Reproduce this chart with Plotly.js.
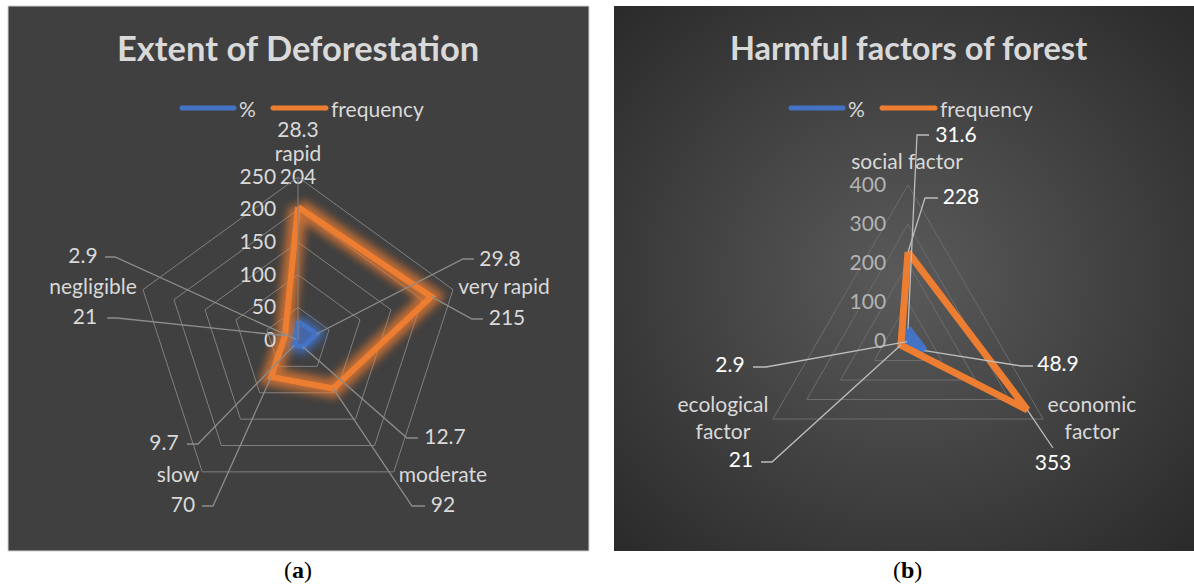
<!DOCTYPE html>
<html>
<head>
<meta charset="utf-8">
<script src="https://cdn.plot.ly/plotly-3.0.1.min.js"></script>
<style>
  html, body { margin: 0; padding: 0; background: #ffffff; }
  #wrap { position: relative; width: 1194px; height: 585px; overflow: hidden; }
  #panelB { position: absolute; left: 614px; top: 6px; width: 580px; height: 545px;
    background: radial-gradient(ellipse farthest-corner at 50% 50%, #5a5a5a 0%, #474747 40%, #2a2a2a 100%); }
  #chart { position: absolute; left: 0; top: 0; width: 1194px; height: 585px; }
</style>
</head>
<body>
<div id="wrap"><div id="panelB"></div><div id="chart"></div></div>
<script>
// ---- Extent of deforestation ----
const extentCategories = ['rapid', 'very rapid', 'moderate', 'slow', 'negligible'];
const extentPercent = [28.3, 29.8, 12.7, 9.7, 2.9];
const extentFrequency = [204, 215, 92, 70, 21];
const extentTicks = [0, 50, 100, 150, 200, 250];

// ---- Harmful factors of forest ----
const harmCategories = ['social factor', 'economic factor', 'ecological factor'];
const harmCategoryText = ['social factor', 'economic<br>factor', 'ecological<br>factor'];
const harmPercent = [31.6, 48.9, 2.9];
const harmFrequency = [228, 353, 21];
const harmTicks = [0, 100, 200, 300, 400];

const seriesNames = ['%', 'frequency'];

// ---- page geometry (pixels) ----
const W = 1194, H = 585;
const FONT = 'Lato, "Open Sans", sans-serif';
const ORANGE = '#ED7D31', BLUE = '#4472C4';
const TEXT_SIZE = 21;

const panelA = { left: 8, top: 6, right: 589, bottom: 551, cx: 298, cy: 340, R: 163, rmax: 250,
                 xa: 'x', ya: 'y', polar: 'polar' };
const panelB = { left: 614, top: 6, right: 1194, bottom: 551, cx: 908, cy: 341, R: 156, rmax: 400,
                 xa: 'x2', ya: 'y2', polar: 'polar2' };

// where each data label sits, and the elbow of its leader line (pixels)
const extentLabelPlacement = [
  { pct: { at: [298, 132] }, freq: { at: [298, 179] } },
  { pct: { at: [500, 261], lead: [[474, 259], [463, 259]] }, freq: { at: [507, 320], lead: [[483, 319], [472, 319]] } },
  { pct: { at: [445, 439], lead: [[418, 438], [407, 438]] }, freq: { at: [443, 507], lead: [[425, 506], [412, 506]] } },
  { pct: { at: [164, 445], lead: [[187, 444], [198, 444]] }, freq: { at: [183, 507], lead: [[202, 506], [213, 506]] } },
  { pct: { at: [83, 258], lead: [[105, 257], [115, 257]] }, freq: { at: [85, 319], lead: [[107, 318], [117, 318]] } }
];
const extentCategoryPlacement = [[298, 156], [504, 289], [443, 477], [178, 477], [93, 289]];
const harmLabelPlacement = [
  { pct: { at: [956, 137], lead: [[929, 135], [917, 135]] }, freq: { at: [961, 199], lead: [[938, 198], [925, 198]] } },
  { pct: { at: [1058, 366], lead: [[1033, 366], [1021, 366]] }, freq: { at: [1053, 465], lead: [[1053, 448]] } },
  { pct: { at: [730, 367], lead: [[753, 367], [766, 367]] }, freq: { at: [741, 462], lead: [[761, 462], [772, 462]] } }
];
const harmCategoryPlacement = [[907, 164], [1092, 420], [723, 420]];

// ---- helpers ----
function closeRing(a) { return a.concat([a[0]]); }
function scaleOf(p) { return p.R / p.rmax; }
function pxToData(p, q) { const k = scaleOf(p); return [(q[0] - p.cx) / k, (p.cy - q[1]) / k]; }
function valueToXY(v, i, n) { const t = 2 * Math.PI * i / n; return [v * Math.sin(t), v * Math.cos(t)]; }
function polarDomain(p) {
  return { x: [(p.cx - p.R) / W, (p.cx + p.R) / W], y: [(H - p.cy - p.R) / H, (H - p.cy + p.R) / H] };
}
function overlayAxes(p) {
  const k = scaleOf(p);
  return {
    x: { domain: [p.left / W, p.right / W], range: [(p.left - p.cx) / k, (p.right - p.cx) / k],
         visible: false, fixedrange: true, anchor: p.ya },
    y: { domain: [(H - p.bottom) / H, (H - p.top) / H], range: [(p.cy - p.bottom) / k, (p.cy - p.top) / k],
         visible: false, fixedrange: true, anchor: p.xa }
  };
}
function leaderShapes(p, placement, pct, freq, color) {
  const out = [];
  const n = pct.length;
  placement.forEach((pl, i) => {
    [['pct', pct[i]], ['freq', freq[i]]].forEach(([key, v]) => {
      const lead = pl[key].lead;
      if (!lead) return;
      const pts = lead.map(q => pxToData(p, q));
      pts.push(valueToXY(v, i, n));
      out.push({ type: 'path', xref: p.xa, yref: p.ya, layer: 'above',
        path: 'M' + pts.map(q => q[0].toFixed(2) + ',' + q[1].toFixed(2)).join('L'),
        line: { color: color, width: 1.3 } });
    });
  });
  return out;
}
function labelTrace(p, placement, pct, freq, color) {
  const xs = [], ys = [], txt = [];
  placement.forEach((pl, i) => {
    const a = pxToData(p, pl.pct.at), b = pxToData(p, pl.freq.at);
    xs.push(a[0], b[0]); ys.push(a[1], b[1]);
    txt.push(pct[i].toFixed(1), String(freq[i]));
  });
  return { type: 'scatter', mode: 'text', x: xs, y: ys, text: txt, xaxis: p.xa, yaxis: p.ya,
    textposition: 'middle center', cliponaxis: false, showlegend: false, hoverinfo: 'skip',
    textfont: { family: FONT, size: TEXT_SIZE, color: color } };
}
function categoryTrace(p, text, placement, color) {
  return { type: 'scatter', mode: 'text', xaxis: p.xa, yaxis: p.ya, text: text,
    x: placement.map(q => pxToData(p, q)[0]), y: placement.map(q => pxToData(p, q)[1]),
    textposition: 'middle center', cliponaxis: false, showlegend: false, hoverinfo: 'skip',
    textfont: { family: FONT, size: TEXT_SIZE, color: color } };
}

// ---- traces ----
const traces = [
  // soft halo under the first chart's lines
  { type: 'scatterpolar', subplot: 'polar', uid: 'glowpct', r: closeRing(extentPercent), theta: closeRing(extentCategories),
    mode: 'lines', line: { color: BLUE, width: 14 }, fill: 'toself', fillcolor: 'rgba(68,114,196,0.55)',
    opacity: 0.8, showlegend: false, hoverinfo: 'skip' },
  { type: 'scatterpolar', subplot: 'polar', uid: 'glowfreq', r: closeRing(extentFrequency), theta: closeRing(extentCategories),
    mode: 'lines', line: { color: ORANGE, width: 18 }, opacity: 0.75, showlegend: false, hoverinfo: 'skip' },
  { type: 'scatterpolar', subplot: 'polar', name: seriesNames[0], r: closeRing(extentPercent), theta: closeRing(extentCategories),
    mode: 'lines', line: { color: BLUE, width: 5 }, showlegend: false },
  { type: 'scatterpolar', subplot: 'polar', name: seriesNames[1], r: closeRing(extentFrequency), theta: closeRing(extentCategories),
    mode: 'lines', line: { color: ORANGE, width: 6 }, showlegend: false },

  { type: 'scatterpolar', subplot: 'polar2', name: seriesNames[0], r: closeRing(harmPercent), theta: closeRing(harmCategories),
    mode: 'lines', line: { color: BLUE, width: 7 }, fill: 'toself', fillcolor: BLUE, showlegend: false },
  { type: 'scatterpolar', subplot: 'polar2', name: seriesNames[1], r: closeRing(harmFrequency), theta: closeRing(harmCategories),
    mode: 'lines', line: { color: ORANGE, width: 7 }, showlegend: false },

  labelTrace(panelA, extentLabelPlacement, extentPercent, extentFrequency, '#d9d9d9'),
  categoryTrace(panelA, extentCategories, extentCategoryPlacement, '#d9d9d9'),
  labelTrace(panelB, harmLabelPlacement, harmPercent, harmFrequency, '#ffffff'),
  categoryTrace(panelB, harmCategoryText, harmCategoryPlacement, '#d9d9d9')
];

// ---- layout ----
const axA = overlayAxes(panelA), axB = overlayAxes(panelB);
const tickFont = c => ({ family: FONT, size: TEXT_SIZE, color: c });

function legendItems(x0, y) {
  const items = [
    { x0: x0, x1: x0 + 52, color: BLUE, text: seriesNames[0], tx: x0 + 55 },
    { x0: x0 + 91, x1: x0 + 144, color: ORANGE, text: seriesNames[1], tx: x0 + 147 }
  ];
  const shapes = [];
  items.forEach(it => {
    shapes.push({ type: 'line', xref: 'paper', yref: 'paper', layer: 'above',
      x0: it.x0 / W, x1: it.x1 / W, y0: 1 - y / H, y1: 1 - y / H, line: { color: it.color, width: 5 } });
    // rounded ends of the legend strokes
    [it.x0, it.x1].forEach(xc => shapes.push({ type: 'circle', xref: 'paper', yref: 'paper', layer: 'above',
      x0: (xc - 2.5) / W, x1: (xc + 2.5) / W, y0: 1 - (y + 2.5) / H, y1: 1 - (y - 2.5) / H,
      fillcolor: it.color, line: { width: 0 } }));
  });
  const notes = items.map(it => ({ xref: 'paper', yref: 'paper', x: it.tx / W, y: 1 - y / H,
    xanchor: 'left', yanchor: 'middle', showarrow: false, text: it.text,
    font: { family: FONT, size: TEXT_SIZE, color: '#d9d9d9' } }));
  return { shapes, notes };
}
const legA = legendItems(182, 108), legB = legendItems(791, 108);

const radialCommon = { angle: 90, tickangle: 90, side: 'counterclockwise',
  ticks: 'outside', ticklen: 14, tickcolor: 'rgba(0,0,0,0)' };

const layout = {
  width: W, height: H, autosize: false,
  margin: { l: 0, r: 0, t: 0, b: 0, pad: 0 },
  paper_bgcolor: 'rgba(0,0,0,0)', plot_bgcolor: 'rgba(0,0,0,0)',
  showlegend: false,
  xaxis: axA.x, yaxis: axA.y, xaxis2: axB.x, yaxis2: axB.y,
  polar: {
    domain: polarDomain(panelA), bgcolor: 'rgba(0,0,0,0)', gridshape: 'linear',
    radialaxis: Object.assign({ range: [0, panelA.rmax], tickvals: extentTicks,
      showline: true, linecolor: '#808080', linewidth: 1,
      gridcolor: '#808080', gridwidth: 1, tickfont: tickFont('#d9d9d9') }, radialCommon),
    angularaxis: { type: 'category', rotation: 90, direction: 'clockwise', showgrid: false,
      showline: true, linecolor: '#808080', linewidth: 1, ticks: '', showticklabels: false }
  },
  polar2: {
    domain: polarDomain(panelB), bgcolor: 'rgba(0,0,0,0)', gridshape: 'linear',
    radialaxis: Object.assign({ range: [0, panelB.rmax], tickvals: harmTicks, showline: false,
      gridcolor: '#6c6c6c', gridwidth: 1, tickfont: tickFont('#b3b3b3') }, radialCommon),
    angularaxis: { type: 'category', rotation: 90, direction: 'clockwise', showgrid: false,
      showline: true, linecolor: '#6c6c6c', linewidth: 1, ticks: '', showticklabels: false }
  },
  shapes: [
    { type: 'rect', xref: 'paper', yref: 'paper', layer: 'below',
      x0: panelA.left / W, x1: panelA.right / W, y0: 1 - panelA.bottom / H, y1: 1 - panelA.top / H,
      fillcolor: '#404040', line: { color: '#d0d0d0', width: 1 } }
  ].concat(
    leaderShapes(panelA, extentLabelPlacement, extentPercent, extentFrequency, '#8c8c8c'),
    leaderShapes(panelB, harmLabelPlacement, harmPercent, harmFrequency, '#bdbdbd'),
    legA.shapes, legB.shapes
  ),
  annotations: [
    { xref: 'paper', yref: 'paper', x: 298 / W, y: 1 - 47 / H, xanchor: 'center', yanchor: 'middle',
      showarrow: false, text: 'Extent of Deforestation',
      font: { family: FONT, size: 34.5, weight: 700, color: '#d9d9d9' } },
    { xref: 'paper', yref: 'paper', x: 908 / W, y: 1 - 47 / H, xanchor: 'center', yanchor: 'middle',
      showarrow: false, text: 'Harmful factors of forest',
      font: { family: FONT, size: 32.5, weight: 700, color: '#d9d9d9' } },
    { xref: 'paper', yref: 'paper', x: 298 / W, y: 1 - 570 / H, xanchor: 'center', yanchor: 'middle',
      showarrow: false, text: '(<b>a</b>)', font: { family: '"Liberation Serif", serif', size: 24, color: '#000' } },
    { xref: 'paper', yref: 'paper', x: 907 / W, y: 1 - 570 / H, xanchor: 'center', yanchor: 'middle',
      showarrow: false, text: '(<b>b</b>)', font: { family: '"Liberation Serif", serif', size: 24, color: '#000' } }
  ].concat(legA.notes, legB.notes)
};

Plotly.newPlot('chart', traces, layout, { staticPlot: true, displayModeBar: false }).then(gd => {
  // blur the halo traces so they read as a soft glow
  const NS = 'http://www.w3.org/2000/svg';
  const svg = gd.querySelector('svg.main-svg');
  let defs = svg.querySelector('defs');
  if (!defs) { defs = document.createElementNS(NS, 'defs'); svg.insertBefore(defs, svg.firstChild); }
  const f = document.createElementNS(NS, 'filter');
  f.setAttribute('id', 'softglow');
  f.setAttribute('x', '-50%'); f.setAttribute('y', '-50%');
  f.setAttribute('width', '200%'); f.setAttribute('height', '200%');
  const blur = document.createElementNS(NS, 'feGaussianBlur');
  blur.setAttribute('stdDeviation', '4');
  f.appendChild(blur);
  defs.appendChild(f);
  ['glowpct', 'glowfreq'].forEach(id => {
    gd.querySelectorAll('g.trace' + id + ' path').forEach(el => el.setAttribute('filter', 'url(#softglow)'));
  });
});
</script>
</body>
</html>
